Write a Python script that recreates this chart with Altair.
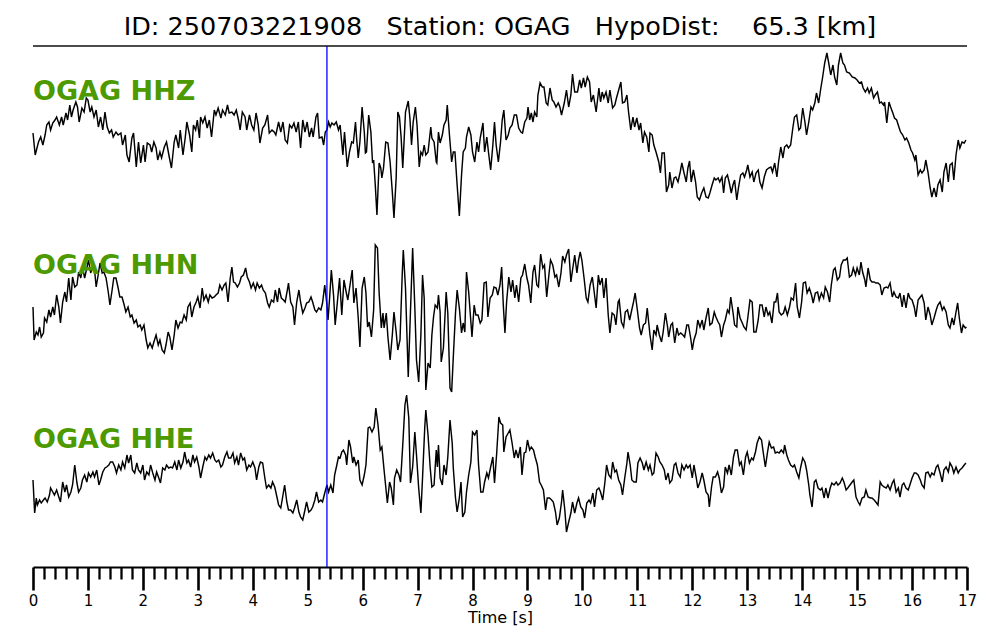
import altair as alt
import pandas as pd

TITLE = "ID: 250703221908   Station: OGAG   HypoDist:    65.3 [km]"
CHANNELS = ["OGAG HHZ", "OGAG HHN", "OGAG HHE"]
P_PICK = [5.35]
MAJOR_TICKS = list(range(0, 18))
MINOR_TICKS = [round(i * 0.2, 1) for i in range(0, 86) if i % 5 != 0]

# (time [s], amplitude)
HHZ = [(0.00,2),(0.04,-20),(0.10,-7),(0.14,-2),(0.18,-10),(0.22,0),(0.25,10),(0.29,13),(0.32,5),(0.36,12),(0.40,15),(0.43,18),(0.48,10),(0.52,18),(0.55,10),(0.60,22),(0.63,15),(0.67,30),(0.70,18),(0.73,25),(0.78,33),(0.81,28),(0.84,13),(0.89,27),(0.93,23),(0.97,37),(1.00,35),(1.04,23),(1.07,28),(1.11,18),(1.15,25),(1.19,8),(1.23,18),(1.27,5),(1.31,23),(1.35,8),(1.39,2),(1.43,5),(1.46,-2),(1.51,3),(1.55,0),(1.60,2),(1.63,-10),(1.68,0),(1.71,-20),(1.75,-27),(1.80,-3),(1.83,2),(1.88,-32),(1.92,-7),(1.96,-28),(2.01,-10),(2.04,-27),(2.08,-8),(2.13,-10),(2.16,-17),(2.20,-7),(2.24,-13),(2.27,-25),(2.31,-17),(2.34,-23),(2.39,-12),(2.43,-7),(2.48,-22),(2.52,-33),(2.57,-7),(2.60,0),(2.65,-13),(2.68,5),(2.73,-20),(2.77,-3),(2.80,13),(2.85,0),(2.89,-17),(2.92,10),(2.96,5),(2.99,15),(3.03,-3),(3.05,18),(3.09,12),(3.13,18),(3.17,7),(3.21,15),(3.25,-2),(3.30,25),(3.33,20),(3.37,27),(3.42,17),(3.45,25),(3.50,20),(3.54,30),(3.57,22),(3.62,23),(3.66,20),(3.70,25),(3.74,15),(3.77,5),(3.81,23),(3.86,18),(3.89,5),(3.94,20),(3.98,10),(4.02,5),(4.06,22),(4.10,10),(4.13,-8),(4.18,7),(4.22,10),(4.27,20),(4.30,2),(4.35,5),(4.39,3),(4.42,0),(4.47,13),(4.51,3),(4.55,13),(4.59,-5),(4.63,-8),(4.67,10),(4.71,7),(4.75,12),(4.79,3),(4.83,13),(4.87,-13),(4.91,15),(4.95,3),(4.99,13),(5.03,-2),(5.07,7),(5.10,-2),(5.15,18),(5.18,22),(5.21,-3),(5.26,-2),(5.29,-10),(5.32,3),(5.35,5),(5.38,13),(5.41,8),(5.44,12),(5.48,10),(5.52,13),(5.56,5),
(5.59,10),(5.64,-20),(5.67,3),(5.72,-32),(5.76,-17),(5.80,-7),(5.83,-8),(5.87,13),(5.89,-3),(5.92,-23),(5.95,-7),(5.99,28),(6.03,3),(6.05,-18),(6.07,-17),(6.11,20),(6.15,3),(6.18,-28),(6.20,-25),(6.23,-50),(6.26,-80),(6.30,-28),(6.33,-33),(6.35,-43),(6.38,-33),(6.42,-7),(6.46,-8),(6.50,-27),(6.54,-57),(6.57,-83),(6.61,-43),(6.64,23),(6.67,18),(6.70,-2),(6.73,-33),(6.78,23),(6.83,34),(6.86,17),(6.89,-10),(6.92,13),(6.96,28),(6.99,10),(7.03,-32),(7.06,-17),(7.09,-20),(7.12,-10),(7.15,-20),(7.19,-17),(7.24,8),(7.26,-3),(7.30,-7),(7.34,-27),(7.35,-28),(7.38,3),(7.41,-8),(7.45,0),(7.48,10),(7.52,15),(7.54,30),(7.58,0),(7.62,-27),(7.65,-17),(7.68,-17),(7.72,-50),(7.76,-81),(7.80,-40),(7.83,-17),(7.87,-13),(7.89,-2),(7.93,8),(7.97,0),(8.00,-17),(8.04,-27),(8.08,-7),(8.11,-17),(8.14,-3),(8.19,12),(8.22,-17),(8.26,-2),(8.29,-17),(8.33,-35),(8.37,-10),(8.40,13),(8.43,-10),(8.47,-27),(8.51,-7),(8.54,15),(8.57,25),(8.61,-5),(8.65,0),(8.68,7),(8.72,10),(8.76,20),(8.80,20),(8.84,7),(8.88,3),(8.91,2),(8.95,13),(8.99,17),(9.01,28),(9.04,15),(9.07,22),(9.10,13),(9.13,23),(9.17,18),(9.19,40),(9.23,52),(9.27,48),(9.30,48),(9.34,32),(9.37,30),(9.41,47),(9.45,35),(9.48,33),(9.52,28),(9.56,32),(9.59,28),(9.62,20),(9.67,32),(9.71,45),(9.75,28),(9.79,40),(9.82,61),(9.86,43),(9.91,43),(9.95,55),(9.98,47),(10.02,57),(10.05,48),(10.09,58),(10.13,53),(10.16,33),(10.20,40),(10.25,23),(10.30,47),(10.33,33),(10.36,43),(10.39,37),(10.43,43),(10.47,32),(10.50,45),(10.55,27),(10.59,30),(10.62,37),(10.66,45),(10.70,53),(10.73,32),(10.77,33),(10.81,40),(10.84,23),(10.88,5),(10.92,18),(10.95,8),(10.99,17),(11.03,5),(11.06,12),(11.10,-8),(11.13,3),(11.17,-2),(11.21,-17),
(11.23,2),(11.27,0),(11.30,-10),(11.34,-17),(11.39,-27),(11.42,-38),(11.45,-18),(11.49,-18),(11.53,-57),(11.57,-50),(11.59,-37),(11.63,-53),(11.67,-43),(11.70,-42),(11.74,-47),(11.78,-37),(11.81,-28),(11.85,-38),(11.89,-47),(11.92,-33),(11.95,-26),(11.98,-47),(12.02,-35),(12.06,-47),(12.09,-62),(12.13,-65),(12.17,-58),(12.21,-53),(12.25,-62),(12.29,-63),(12.32,-58),(12.36,-50),(12.40,-43),(12.43,-45),(12.47,-43),(12.50,-47),(12.54,-42),(12.57,-58),(12.60,-43),(12.64,-40),(12.67,-47),(12.71,-58),(12.74,-50),(12.77,-45),(12.81,-65),(12.84,-53),(12.88,-40),(12.92,-38),(12.95,-42),(12.99,-35),(13.01,-30),(13.05,-42),(13.09,-37),(13.12,-47),(13.16,-38),(13.20,-35),(13.23,-47),(13.27,-53),(13.31,-42),(13.35,-35),(13.39,-33),(13.43,-32),(13.46,-37),(13.50,-28),(13.54,-42),(13.57,-27),(13.61,-12),(13.65,-23),(13.68,-12),(13.72,-10),(13.75,-13),(13.79,-10),(13.83,7),(13.86,18),(13.90,20),(13.94,5),(13.97,7),(14.01,27),(14.05,13),(14.08,0),(14.12,13),(14.16,28),(14.19,25),(14.23,32),(14.26,42),(14.30,32),(14.34,47),(14.37,57),(14.41,72),(14.45,82),(14.48,73),(14.52,60),(14.56,70),(14.59,58),(14.63,50),(14.66,70),(14.70,82),(14.74,72),(14.77,70),(14.81,63),(14.86,62),(14.91,58),(14.96,57),(15.00,55),(15.04,52),(15.08,53),(15.11,47),(15.15,43),(15.19,47),(15.22,42),(15.26,47),(15.30,37),(15.33,40),(15.37,43),(15.41,32),(15.44,33),(15.48,30),(15.50,33),(15.54,12),(15.58,33),(15.61,28),(15.65,22),(15.68,17),(15.72,15),(15.76,8),(15.79,3),(15.83,0),(15.87,-5),(15.90,-3),(15.94,-8),(15.98,-15),(16.01,-18),(16.05,-25),(16.07,-20),(16.11,-40),(16.15,-35),(16.18,-38),(16.22,-35),(16.25,-25),(16.29,-37),(16.33,-53),(16.36,-62),(16.40,-53),(16.44,-62),(16.47,-50),(16.51,-45),(16.55,-57),(16.58,-37),(16.62,-28),(16.66,-47),(16.69,-30),(16.73,-28),(16.76,-45),(16.80,-20),(16.84,-5),(16.87,-13),(16.91,-7),(16.95,-8),(16.98,-5)]

HHN = [(0.00,2),(0.02,-31),(0.06,-23),(0.09,-26),(0.12,-18),(0.15,-28),(0.19,-24),(0.21,-9),(0.25,-13),(0.29,-1),(0.32,-8),(0.36,2),(0.39,-6),(0.43,14),(0.47,2),(0.50,-14),(0.54,7),(0.58,17),(0.61,7),(0.65,31),(0.69,9),(0.72,32),(0.76,22),(0.80,24),(0.83,37),(0.87,31),(0.90,42),(0.94,31),(0.98,41),(1.01,49),(1.05,36),(1.09,44),(1.12,39),(1.15,22),(1.18,32),(1.22,46),(1.26,36),(1.29,37),(1.33,31),(1.37,17),(1.40,4),(1.44,19),(1.47,31),(1.51,31),(1.55,21),(1.58,12),(1.62,12),(1.66,4),(1.69,-3),(1.73,2),(1.77,-8),(1.80,-6),(1.84,-14),(1.88,-11),(1.91,-18),(1.95,-16),(1.98,-21),(2.02,-16),(2.06,-31),(2.09,-39),(2.13,-34),(2.17,-39),(2.20,-33),(2.24,-26),(2.28,-36),(2.31,-31),(2.35,-41),(2.39,-44),(2.42,-36),(2.46,-23),(2.49,-28),(2.53,-41),(2.57,-26),(2.60,-11),(2.64,-19),(2.68,-13),(2.71,-14),(2.75,-6),(2.79,-11),(2.82,2),(2.86,6),(2.89,-8),(2.93,2),(2.97,7),(3.00,12),(3.04,1),(3.08,21),(3.11,9),(3.15,14),(3.19,7),(3.22,14),(3.26,11),(3.30,12),(3.33,14),(3.37,16),(3.40,24),(3.44,19),(3.48,24),(3.51,26),(3.55,7),(3.59,31),(3.62,42),(3.65,27),(3.68,26),(3.72,22),(3.76,26),(3.79,32),(3.83,34),(3.87,41),(3.90,32),(3.94,27),(3.97,21),(4.01,26),(4.05,19),(4.08,26),(4.12,21),(4.16,24),(4.19,19),(4.23,16),(4.27,6),(4.30,2),(4.34,9),(4.38,7),(4.41,19),(4.45,7),(4.48,21),(4.52,11),(4.56,9),(4.59,7),(4.63,19),(4.65,26),(4.69,7),(4.73,2),(4.76,-16),(4.80,7),(4.84,19),(4.87,7),(4.91,-4),(4.95,1),(4.98,6),(5.02,7),(5.06,12),(5.09,7),(5.13,-1),(5.16,-3),(5.20,1),(5.24,-1),(5.27,6),(5.31,24),(5.35,4),(5.37,-11),(5.40,12),(5.43,39),(5.47,14),(5.50,-16),(5.54,7),(5.58,31),
(5.62,-6),(5.66,29),(5.70,17),(5.73,9),(5.77,24),(5.81,39),(5.84,6),(5.88,21),(5.92,-9),(5.95,-38),(5.99,21),(6.03,32),(6.06,16),(6.09,-18),(6.12,-13),(6.16,-28),(6.20,-1),(6.23,64),(6.27,61),(6.30,16),(6.34,-19),(6.37,-4),(6.39,-19),(6.43,-4),(6.46,-28),(6.50,-51),(6.54,-26),(6.57,-3),(6.61,-23),(6.64,-41),(6.68,-31),(6.72,34),(6.74,59),(6.78,21),(6.83,-68),(6.86,-19),(6.91,61),(6.95,1),(6.98,-51),(7.02,-73),(7.06,-26),(7.09,34),(7.12,11),(7.15,-81),(7.19,-54),(7.23,-59),(7.26,-26),(7.29,-8),(7.32,4),(7.36,1),(7.38,14),(7.41,-3),(7.43,-53),(7.47,-39),(7.52,17),(7.55,-4),(7.59,-79),(7.62,-83),(7.65,-48),(7.69,-4),(7.72,19),(7.76,1),(7.80,-24),(7.83,-14),(7.86,-23),(7.89,37),(7.93,17),(7.97,-13),(7.99,-28),(8.03,4),(8.06,-6),(8.10,-6),(8.14,-14),(8.17,-11),(8.21,26),(8.25,27),(8.28,-8),(8.32,11),(8.36,14),(8.39,22),(8.43,21),(8.46,14),(8.50,24),(8.53,42),(8.56,4),(8.59,-24),(8.62,7),(8.66,32),(8.70,17),(8.73,29),(8.77,11),(8.80,24),(8.84,7),(8.88,31),(8.91,34),(8.95,45),(8.99,31),(9.02,24),(9.06,6),(9.10,37),(9.13,44),(9.17,24),(9.20,22),(9.24,55),(9.28,41),(9.31,44),(9.35,12),(9.39,34),(9.42,49),(9.46,44),(9.50,32),(9.53,34),(9.57,22),(9.61,36),(9.64,53),(9.68,47),(9.71,54),(9.75,60),(9.79,27),(9.82,39),(9.86,54),(9.90,36),(9.93,49),(9.96,57),(9.99,49),(10.03,31),(10.07,11),(10.10,7),(10.14,24),(10.18,32),(10.21,19),(10.25,1),(10.29,34),(10.32,24),(10.36,31),(10.39,11),(10.43,31),(10.47,-6),(10.50,-24),(10.54,-4),(10.58,-6),(10.61,-16),(10.65,7),(10.67,9),(10.71,-13),(10.75,-18),(10.78,-3),(10.82,-1),(10.86,-11),(10.89,-3),(10.93,7),(10.96,16),(11.00,-1),(11.04,-19),(11.07,-26),(11.11,-16),(11.15,-14),(11.18,1),
(11.23,-26),(11.27,-41),(11.30,-21),(11.34,-26),(11.36,-16),(11.40,-26),(11.44,-33),(11.47,-23),(11.51,-4),(11.55,-18),(11.57,-28),(11.61,-16),(11.64,-14),(11.68,-34),(11.72,-19),(11.75,-26),(11.79,-24),(11.83,-26),(11.86,-28),(11.90,-16),(11.93,-16),(11.97,-29),(12.00,-41),(12.03,-31),(12.07,-24),(12.10,-11),(12.14,-18),(12.18,-11),(12.21,-21),(12.25,-9),(12.29,1),(12.32,-16),(12.36,-14),(12.40,-3),(12.43,-8),(12.47,-13),(12.50,-16),(12.53,-28),(12.57,-16),(12.60,-11),(12.64,-1),(12.67,-4),(12.70,12),(12.74,-3),(12.77,-16),(12.81,-18),(12.83,2),(12.87,-9),(12.91,-14),(12.94,-18),(12.98,-21),(13.01,-9),(13.05,9),(13.09,7),(13.12,-23),(13.16,-23),(13.20,-11),(13.23,4),(13.27,4),(13.31,-8),(13.34,2),(13.38,-6),(13.41,-3),(13.45,-14),(13.49,7),(13.52,7),(13.55,16),(13.58,-3),(13.62,-6),(13.66,-4),(13.69,2),(13.73,-6),(13.77,2),(13.80,11),(13.84,9),(13.88,26),(13.91,2),(13.95,-9),(13.99,7),(14.02,26),(14.06,27),(14.09,16),(14.13,21),(14.17,14),(14.20,6),(14.24,16),(14.28,17),(14.31,9),(14.35,16),(14.39,11),(14.42,22),(14.46,17),(14.50,7),(14.53,24),(14.57,39),(14.60,41),(14.64,29),(14.68,32),(14.71,44),(14.75,49),(14.79,49),(14.82,51),(14.86,32),(14.90,34),(14.93,41),(14.97,34),(15.00,41),(15.04,34),(15.07,47),(15.10,37),(15.14,29),(15.16,22),(15.20,41),(15.24,29),(15.27,27),(15.31,27),(15.34,26),(15.38,26),(15.42,24),(15.45,14),(15.49,21),(15.53,22),(15.56,21),(15.60,26),(15.64,12),(15.67,17),(15.71,12),(15.75,11),(15.78,16),(15.82,2),(15.85,14),(15.89,1),(15.93,16),(15.96,11),(16.00,9),(16.04,2),(16.07,-8),(16.11,9),(16.15,12),(16.18,14),(16.22,6),(16.25,-11),(16.29,2),(16.33,-6),(16.36,-16),(16.40,-9),(16.44,-1),(16.47,4),(16.51,7),(16.55,-1),(16.58,2),(16.62,-3),(16.66,-16),(16.69,-19),(16.73,-9),(16.76,-16),(16.80,-3),(16.83,6),(16.86,-9),(16.90,-24),(16.93,-16),(16.97,-19),(16.99,-18)]

HHE = [(0.00,3),(0.03,-30),(0.06,-15),(0.08,-22),(0.12,-17),(0.15,-20),(0.19,-17),(0.22,-15),(0.26,-19),(0.30,-12),(0.32,-5),(0.36,-9),(0.39,-12),(0.43,-7),(0.47,-14),(0.50,-19),(0.54,1),(0.58,-9),(0.61,-2),(0.65,-14),(0.69,-9),(0.72,-2),(0.76,18),(0.80,0),(0.83,-9),(0.87,-5),(0.90,3),(0.94,8),(0.98,1),(1.01,10),(1.05,6),(1.09,11),(1.12,6),(1.16,13),(1.20,-2),(1.23,3),(1.27,11),(1.31,15),(1.34,16),(1.38,18),(1.41,21),(1.45,21),(1.49,16),(1.52,10),(1.56,18),(1.60,13),(1.63,21),(1.67,15),(1.71,28),(1.74,20),(1.78,28),(1.81,13),(1.85,10),(1.89,20),(1.92,13),(1.96,10),(2.00,18),(2.03,3),(2.07,11),(2.11,8),(2.14,18),(2.18,10),(2.22,3),(2.25,11),(2.29,5),(2.32,0),(2.36,15),(2.40,13),(2.43,18),(2.47,15),(2.51,16),(2.54,15),(2.58,21),(2.62,13),(2.65,23),(2.69,15),(2.73,21),(2.76,31),(2.80,20),(2.83,23),(2.87,16),(2.91,28),(2.94,21),(2.98,26),(3.02,16),(3.05,5),(3.09,16),(3.13,26),(3.16,23),(3.20,28),(3.23,25),(3.27,30),(3.31,23),(3.34,21),(3.38,23),(3.42,16),(3.45,18),(3.49,26),(3.53,31),(3.56,25),(3.60,25),(3.64,30),(3.67,20),(3.71,26),(3.74,18),(3.78,30),(3.82,23),(3.85,25),(3.89,13),(3.93,18),(3.96,16),(4.00,21),(4.04,15),(4.07,3),(4.11,16),(4.14,21),(4.18,20),(4.22,5),(4.25,-5),(4.29,-2),(4.33,-5),(4.36,1),(4.40,-4),(4.44,-14),(4.47,-22),(4.51,-25),(4.55,-12),(4.58,-2),(4.62,-19),(4.65,-27),(4.69,-27),(4.73,-30),(4.76,-25),(4.80,-17),(4.84,-29),(4.87,-34),(4.91,-37),(4.95,-27),(4.98,-19),(5.02,-29),(5.06,-27),(5.09,-24),(5.13,-17),(5.16,-9),(5.20,-19),(5.24,-17),(5.27,-19),(5.31,-10),(5.35,-2),(5.38,-9),(5.42,-2),(5.46,-10),(5.49,8),(5.53,18),(5.56,26),
(5.59,25),(5.62,31),(5.65,33),(5.69,28),(5.71,18),(5.75,43),(5.78,36),(5.82,20),(5.84,26),(5.88,18),(5.92,23),(5.95,3),(5.99,-2),(6.03,8),(6.06,18),(6.10,55),(6.13,56),(6.17,51),(6.21,56),(6.24,75),(6.28,58),(6.32,33),(6.35,36),(6.39,13),(6.43,-9),(6.45,-20),(6.49,1),(6.52,-5),(6.56,-22),(6.58,5),(6.62,13),(6.66,8),(6.69,1),(6.73,38),(6.77,78),(6.80,88),(6.84,65),(6.87,0),(6.91,16),(6.95,51),(6.98,28),(7.02,-5),(7.06,-30),(7.09,5),(7.13,55),(7.15,73),(7.19,48),(7.23,15),(7.26,-4),(7.30,-2),(7.34,33),(7.36,16),(7.38,38),(7.41,5),(7.45,-2),(7.48,18),(7.52,8),(7.55,26),(7.59,63),(7.63,40),(7.65,15),(7.69,-15),(7.72,-29),(7.76,-15),(7.79,1),(7.82,-34),(7.86,-29),(7.89,-9),(7.93,8),(7.97,21),(8.00,51),(8.04,48),(8.08,53),(8.11,18),(8.15,-9),(8.19,-9),(8.22,1),(8.26,10),(8.29,5),(8.33,16),(8.37,26),(8.40,0),(8.44,30),(8.48,66),(8.51,60),(8.55,58),(8.57,31),(8.61,46),(8.65,50),(8.68,53),(8.72,40),(8.76,25),(8.79,33),(8.83,25),(8.87,36),(8.90,8),(8.94,30),(8.97,31),(9.00,43),(9.04,33),(9.07,36),(9.11,33),(9.14,26),(9.18,18),(9.22,1),(9.25,-2),(9.29,-7),(9.33,-27),(9.36,-15),(9.40,-15),(9.44,-17),(9.47,-19),(9.51,-29),(9.54,-42),(9.58,-35),(9.62,-19),(9.64,-7),(9.68,-27),(9.71,-49),(9.75,-39),(9.79,-30),(9.82,-19),(9.86,-30),(9.90,-20),(9.93,-15),(9.97,-24),(10.01,-27),(10.04,-35),(10.08,-20),(10.12,-17),(10.15,-20),(10.19,-10),(10.22,-24),(10.26,-7),(10.30,-5),(10.33,-9),(10.37,-17),(10.41,1),(10.44,18),(10.48,8),(10.52,5),(10.55,21),(10.59,11),(10.62,13),(10.66,3),(10.70,-2),(10.73,-12),(10.77,5),(10.81,20),(10.83,31),(10.87,18),(10.90,3),(10.94,1),(10.98,1),(11.01,20),(11.05,25),(11.09,20),(11.12,13),(11.16,21),(11.20,13),
(11.23,18),(11.27,8),(11.30,10),(11.34,30),(11.38,26),(11.41,21),(11.45,18),(11.49,13),(11.52,3),(11.56,10),(11.59,0),(11.63,3),(11.67,18),(11.70,20),(11.74,10),(11.78,6),(11.81,18),(11.85,13),(11.89,18),(11.92,15),(11.96,18),(12.00,5),(12.03,18),(12.07,6),(12.10,-5),(12.14,1),(12.18,10),(12.21,3),(12.25,-9),(12.29,-12),(12.31,-24),(12.35,-4),(12.38,6),(12.42,6),(12.46,11),(12.49,5),(12.53,-10),(12.57,-4),(12.60,16),(12.64,10),(12.67,18),(12.71,8),(12.75,26),(12.78,33),(12.82,33),(12.86,18),(12.89,21),(12.93,8),(12.97,26),(13.00,31),(13.04,20),(13.08,25),(13.11,23),(13.15,31),(13.18,40),(13.22,46),(13.26,43),(13.29,31),(13.33,16),(13.37,31),(13.40,41),(13.44,35),(13.48,36),(13.51,30),(13.55,31),(13.58,30),(13.62,33),(13.66,30),(13.68,38),(13.72,28),(13.75,23),(13.79,18),(13.83,16),(13.86,18),(13.90,11),(13.94,5),(13.97,15),(14.01,25),(14.05,21),(14.08,13),(14.12,-2),(14.14,-12),(14.18,-24),(14.22,1),(14.25,3),(14.29,-5),(14.33,-7),(14.36,-5),(14.40,-15),(14.43,-5),(14.47,-15),(14.51,-5),(14.54,0),(14.58,-2),(14.62,1),(14.65,-2),(14.69,0),(14.73,5),(14.76,1),(14.80,-7),(14.83,-5),(14.87,-2),(14.91,1),(14.94,3),(14.98,-14),(15.02,-19),(15.05,-22),(15.09,-15),(15.13,-14),(15.16,-7),(15.20,-14),(15.24,-15),(15.27,-15),(15.31,-17),(15.34,-19),(15.38,-22),(15.42,1),(15.45,-2),(15.49,-4),(15.53,-5),(15.56,-2),(15.60,-7),(15.64,0),(15.67,3),(15.71,-9),(15.75,-5),(15.78,-14),(15.82,-2),(15.85,0),(15.89,-5),(15.93,-7),(15.96,-2),(16.00,5),(16.04,10),(16.07,10),(16.11,8),(16.15,3),(16.18,-2),(16.22,-5),(16.25,10),(16.29,11),(16.33,6),(16.36,10),(16.40,8),(16.44,16),(16.47,18),(16.51,10),(16.55,1),(16.58,13),(16.62,16),(16.66,11),(16.69,20),(16.73,16),(16.76,10),(16.80,16),(16.84,10),(16.87,13),(16.91,15),(16.95,18),(16.98,20)]

# vertical stacking of the three components (amplitude units)
OFFSETS = [432, 258, 84]
Y_TOP = 521
LABEL_RAISE = 35

rows = []
for name, series, off in zip(CHANNELS, [HHZ, HHN, HHE], OFFSETS):
    for t, a in series:
        rows.append({"t": t, "y": off + a, "ch": name})
df = pd.DataFrame(rows)

labels_df = pd.DataFrame({"t": [0.0] * 3, "y": [o + LABEL_RAISE for o in OFFSETS], "ch": CHANNELS})
pick_df = pd.DataFrame({"t": P_PICK})
top_df = pd.DataFrame({"y": [Y_TOP]})

FONT = "DejaVu Sans"
xscale = alt.Scale(domain=[0, 17], nice=False, zero=False)
yscale = alt.Scale(domain=[0, Y_TOP], nice=False, zero=False)

major_axis = alt.Axis(
    orient="bottom", values=MAJOR_TICKS, format="d", grid=False,
    tickSize=23, tickWidth=2.6, tickColor="black",
    domain=True, domainColor="black", domainWidth=2,
    labelFont=FONT, labelFontSize=15, labelColor="black", labelPadding=3,
    labelFlush=False, labelOverlap=False, labelBound=False,
    title="Time [s]", titleFont=FONT, titleFontSize=16, titleFontWeight="normal",
    titleColor="black", titlePadding=1,
)
minor_axis = alt.Axis(
    orient="bottom", values=MINOR_TICKS, grid=False, labels=False, domain=False,
    tickSize=12, tickWidth=2.3, tickColor="black", title=None,
)

lines = alt.Chart(df).mark_line(color="black", strokeWidth=1.45).encode(
    x=alt.X("t:Q", scale=xscale, axis=major_axis),
    y=alt.Y("y:Q", scale=yscale, axis=None),
    detail="ch:N",
)

pick = alt.Chart(pick_df).mark_rule(color="#0000ff", strokeWidth=1.3).encode(
    x=alt.X("t:Q", scale=xscale, axis=minor_axis),
)

top_line = alt.Chart(top_df).mark_rule(color="#111111", strokeWidth=1.5).encode(
    y=alt.Y("y:Q", scale=yscale, axis=None),
)

labels = alt.Chart(labels_df).mark_text(
    align="left", baseline="alphabetic", font=FONT, fontSize=27,
    fontWeight="bold", color="#4c9900",
).encode(
    x=alt.X("t:Q", scale=xscale, axis=None),
    y=alt.Y("y:Q", scale=yscale, axis=None),
    text="ch:N",
)

chart = alt.layer(lines, pick, top_line, labels).resolve_axis(x="independent").properties(
    width=934,
    height=521,
    background="white",
    autosize=alt.AutoSizeParams(type="none"),
    padding={"left": 25, "top": 38, "right": 25, "bottom": 65},
    title=alt.TitleParams(
        TITLE.replace(" ", "\u00a0"), font=FONT, fontSize=25.5, fontWeight="normal",
        color="black", anchor="middle", offset=5,
    ),
).configure_view(strokeWidth=0, stroke=None)

chart.save("out.html", embed_options={"renderer": "svg", "actions": False})
